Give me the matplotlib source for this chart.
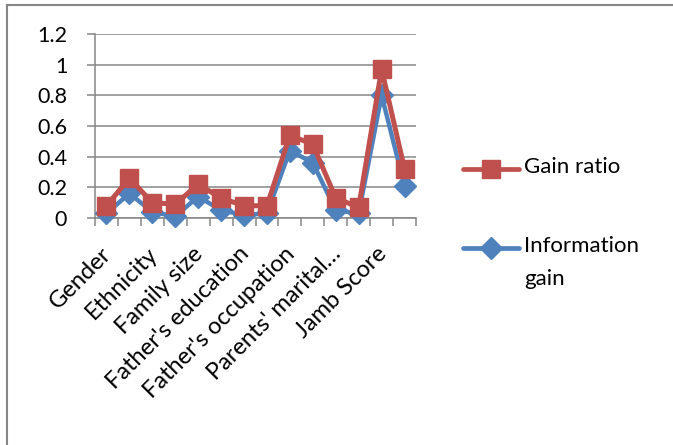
import numpy as np
import matplotlib.pyplot as plt
import matplotlib.transforms as mtransforms
from matplotlib.lines import Line2D

plt.rcParams['font.family'] = ['Lato', 'DejaVu Sans']

# attribute ranking scores
categories = ['Gender', '', 'Ethnicity', '', 'Family size', '',
              "Father's education", '', "Father's occupation", '',
              "Parents' marital\u2026", '', 'Jamb Score', '']
gain_ratio = [0.08, 0.26, 0.10, 0.09, 0.22, 0.13, 0.08,
              0.08, 0.54, 0.48, 0.13, 0.07, 0.97, 0.32]
info_gain = [0.03, 0.16, 0.04, 0.01, 0.14, 0.05, 0.02,
             0.03, 0.44, 0.36, 0.05, 0.03, 0.80, 0.21]
yticks = [0, 0.2, 0.4, 0.6, 0.8, 1, 1.2]
ytick_labels = ['0', '0.2', '0.4', '0.6', '0.8', '1', '1.2']

red = '#C0504D'
blue = '#4F81BD'
grid = '#868686'

W, H = 673, 445
fig = plt.figure(figsize=(W / 100, H / 100), dpi=100)
ax = fig.add_axes([95 / W, (H - 218) / H, (416 - 95) / W, (218 - 34) / H])

x = np.arange(len(categories))
ax.plot(x, info_gain, color=blue, lw=3.2, marker='D', ms=11.5,
        markeredgecolor=blue, zorder=3, clip_on=False)
ax.plot(x, gain_ratio, color=red, lw=3.6, marker='s', ms=12.5,
        markeredgecolor=red, zorder=4, clip_on=False)

ax.set_xlim(-0.5, len(categories) - 0.5)
ax.set_ylim(0, 1.2)
ax.set_yticks(yticks)
ax.set_yticklabels(ytick_labels, fontsize=15.5)
ax.yaxis.grid(True, color=grid, lw=1.1)
ax.set_axisbelow(True)

# category names under every other slot, tick marks between slots
ax.set_xticks(x)
ax.set_xticklabels(categories, rotation=45, ha='right', fontsize=17)
ax.set_xticks(np.arange(-0.5, len(categories)), minor=True)
ax.tick_params(axis='x', which='major', length=0, pad=18)
ax.tick_params(axis='x', which='minor', length=6, width=1.1, color=grid, direction='out')
ax.tick_params(axis='y', length=6, width=1.1, color=grid, pad=14)
shift = mtransforms.ScaledTranslation(9 / 100, 0, fig.dpi_scale_trans)
for lbl in ax.get_xticklabels():
    lbl.set_transform(lbl.get_transform() + shift)

for s in ['top', 'right']:
    ax.spines[s].set_visible(False)
for s in ['left', 'bottom']:
    ax.spines[s].set_color(grid)
    ax.spines[s].set_linewidth(1.1)

# legend on the right
def fx(px):
    return px / W

def fy(py):
    return (H - py) / H

entries = [(169, red, 's', 12.5, 'Gain ratio'),
           (248, blue, 'D', 11, 'Information\ngain')]
for py, c, m, ms, txt in entries:
    fig.add_artist(Line2D([fx(463), fx(519)], [fy(py), fy(py)], color=c, lw=3.4,
                          solid_capstyle='round'))
    fig.add_artist(Line2D([fx(491)], [fy(py)], color=c, marker=m, ms=ms, lw=0))
    fig.text(fx(524), fy(py) + 0.028, txt, fontsize=16, va='top', ha='left',
             linespacing=1.85)

# chart frame
fig.add_artist(Line2D([fx(7), fx(672)], [fy(5), fy(5)], color=grid, lw=1.5))
fig.add_artist(Line2D([fx(7), fx(7)], [fy(5), fy(445)], color=grid, lw=1.5))

fig.savefig('out.png', dpi=100)
